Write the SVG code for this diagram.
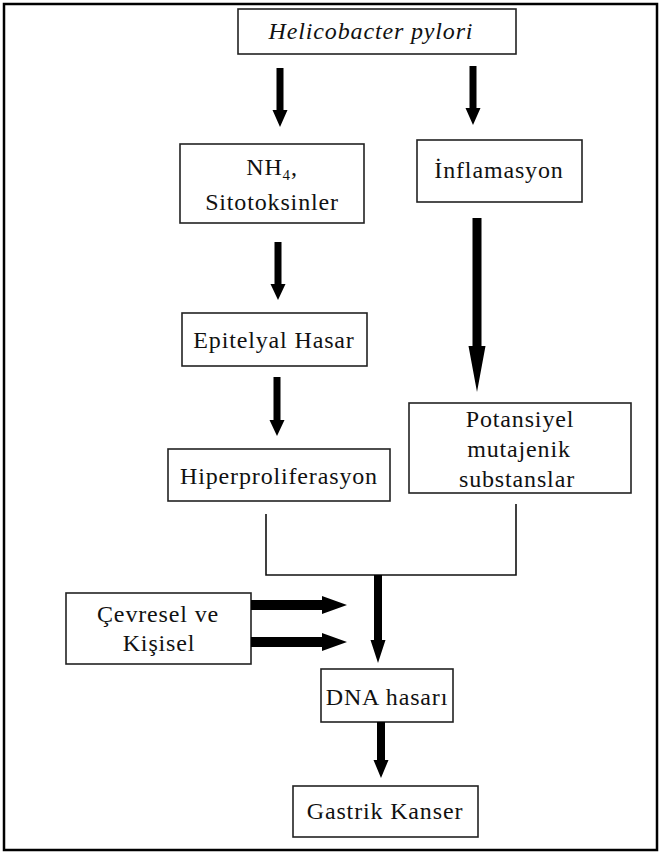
<svg xmlns="http://www.w3.org/2000/svg" width="662" height="854" viewBox="0 0 662 854">
<style>
.frame{fill:none;stroke:#000;stroke-width:2.5}
.box{fill:#fff;stroke:#222;stroke-width:1.6}
.t{font-family:"Liberation Serif","Times New Roman",serif;font-size:24px;fill:#111;text-anchor:middle;letter-spacing:0.85px}
.it{font-style:italic}
.ar{fill:#000}
.ln{fill:none;stroke:#111;stroke-width:1.6}
</style>
<rect class="frame" x="4" y="4" width="653" height="846"/>
<g id="n-helicobacter">
<rect class="box" x="238" y="9" width="278" height="45"/>
<text class="t it" x="371" y="39">Helicobacter pylori</text>
</g>
<g id="n-nh4">
<rect class="box" x="180" y="144" width="184" height="79"/>
<text class="t" x="272" y="175">NH<tspan font-size="15" dy="5">4</tspan><tspan dy="-5">,</tspan></text>
<text class="t" x="272" y="210">Sitotoksinler</text>
</g>
<g id="n-inflamasyon">
<rect class="box" x="417" y="140" width="165" height="62"/>
<text class="t" x="499" y="178">İnflamasyon</text>
</g>
<g id="n-epitelyal">
<rect class="box" x="182" y="313" width="185" height="53"/>
<text class="t" x="274" y="348">Epitelyal Hasar</text>
</g>
<g id="n-hiper">
<rect class="box" x="168" y="449" width="222" height="52"/>
<text class="t" x="279" y="484">Hiperproliferasyon</text>
</g>
<g id="n-potansiyel">
<rect class="box" x="409" y="403" width="222" height="90"/>
<text class="t" x="520" y="427">Potansiyel</text>
<text class="t" x="519" y="457">mutajenik</text>
<text class="t" x="517" y="487">substanslar</text>
</g>
<g id="n-cevresel">
<rect class="box" x="66" y="593" width="185" height="71"/>
<text class="t" x="158" y="622">Çevresel ve</text>
<text class="t" x="159" y="651">Kişisel</text>
</g>
<g id="n-dna">
<rect class="box" x="321" y="669" width="132" height="53"/>
<text class="t" x="387" y="705">DNA hasarı</text>
</g>
<g id="n-gastrik">
<rect class="box" x="293" y="786" width="185" height="51"/>
<text class="t" x="385" y="819">Gastrik Kanser</text>
</g>
<g id="connectors">
<polygon class="ar" points="276.5,68 283.5,68 283.5,110 287.5,110 280,127 272.5,110 276.5,110"/>
<polygon class="ar" points="469.5,66 476.5,66 476.5,108 480.5,108 473,125 465.5,108 469.5,108"/>
<polygon class="ar" points="274.5,242 281.5,242 281.5,284 285.5,284 278,300 270.5,284 274.5,284"/>
<polygon class="ar" points="273.5,377 280.5,377 280.5,420 284.5,420 277,436 269.5,420 273.5,420"/>
<polygon class="ar" points="472.5,218 481.5,218 481.5,346 485.5,346 477,392 468.5,346 472.5,346"/>
<path class="ln" d="M266,514 V575 H516 V504"/>
<polygon class="ar" points="374,575 382,575 382,640 385.5,640 378,663 370.5,640 374,640"/>
<polygon class="ar" points="377,722 385,722 385,760 388.5,760 381,778 373.5,760 377,760"/>
<polygon class="ar" points="251,600 322,600 322,596 347,605 322,614 322,610 251,610"/>
<polygon class="ar" points="251,637 322,637 322,633 347,642 322,651 322,647 251,647"/>
</g>
</svg>
